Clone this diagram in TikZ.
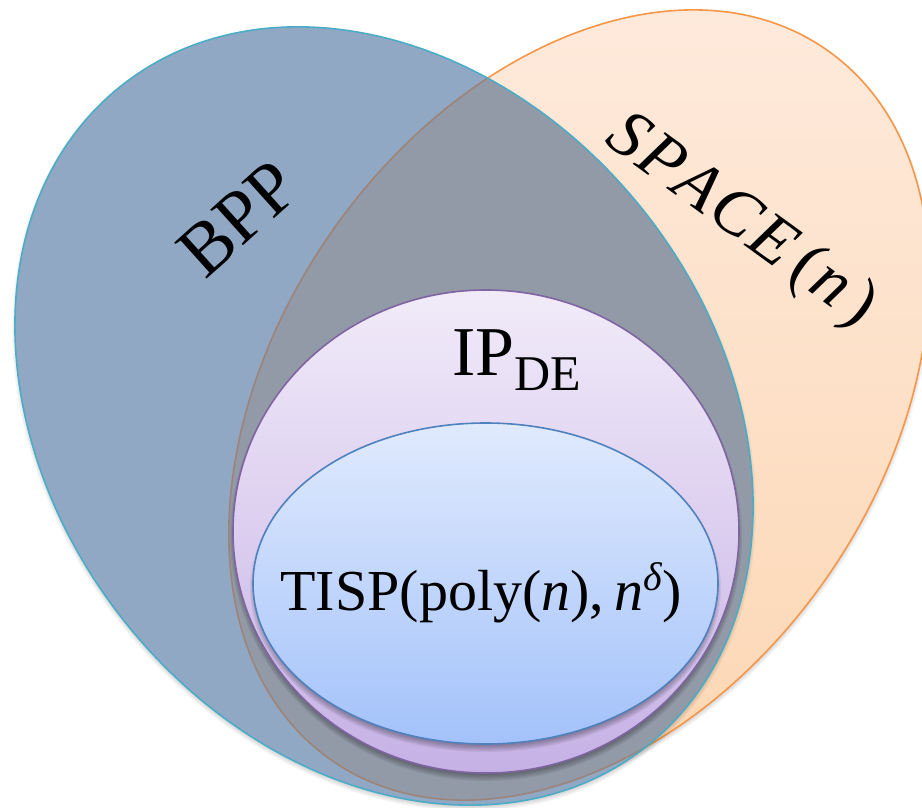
\documentclass[tikz,border=0pt]{standalone}
\usepackage{fontspec}
\setmainfont{Liberation Serif}
\definecolor{bppfill}{HTML}{91A8C4}
\definecolor{bppline}{HTML}{4BACC6}
\definecolor{interfill}{HTML}{9299A7}
\definecolor{sptop}{HTML}{FEEADC}
\definecolor{spbot}{HTML}{FCD6B2}
\definecolor{spline}{HTML}{F79646}
\definecolor{spthrough}{HTML}{9C8479}
\definecolor{iptop}{HTML}{F1EBF9}
\definecolor{ipbot}{HTML}{C6B1E5}
\definecolor{ipline}{HTML}{8064A2}
\definecolor{tstop}{HTML}{E0EAFD}
\definecolor{tsbot}{HTML}{A3C2FA}
\definecolor{tsline}{HTML}{4F81BD}
\tikzset{
  bpprot/.style={rotate around={128.6:(384,416)}},
  sprot/.style={rotate around={55.15:(579,405)}},
  outline/.style={line width=1.6pt},
}
\newcommand\softshade[7]{%
  \foreach \k in {0,...,5}{%
    \fill[black, opacity=#7, shift={(0,#6)}, rotate around={#5:(#1,#2)}]
      (#1,#2) ellipse [x radius={#3pt+1.2pt*\k-3pt}, y radius={#4pt+1.2pt*\k-3pt}];
  }}
\begin{document}
\begin{tikzpicture}[x=1pt,y=-1pt]
\useasboundingbox (0,0) rectangle (922,808);
\fill[white] (0,0) rectangle (922,808);

% SPACE(n)
\softshade{579}{405}{433}{302}{55.15}{3}{0.035}
\begin{scope}
  \clip[sprot] (579,405) ellipse [x radius=433pt, y radius=302pt];
  \shade[top color=sptop, bottom color=spbot] (100,0) rectangle (960,808);
\end{scope}
\draw[sprot, spline, outline] (579,405) ellipse [x radius=433pt, y radius=302pt];

% BPP
\softshade{384}{416}{422}{331}{128.6}{3}{0.035}
\fill[bpprot, bppfill] (384,416) ellipse [x radius=422pt, y radius=331pt];
\begin{scope}
  \clip[sprot] (579,405) ellipse [x radius=433pt, y radius=302pt];
  \fill[bpprot, interfill] (384,416) ellipse [x radius=422pt, y radius=331pt];
\end{scope}
\begin{scope}
  \clip[bpprot] (384,416) ellipse [x radius=422pt, y radius=331pt];
  \draw[sprot, spthrough, outline] (579,405) ellipse [x radius=433pt, y radius=302pt];
\end{scope}
\draw[bpprot, bppline, outline] (384,416) ellipse [x radius=422pt, y radius=331pt];

% IP_DE
\softshade{486}{531.5}{253}{241.5}{0}{5}{0.06}
\shadedraw[top color=iptop, bottom color=ipbot, draw=ipline, outline]
  (486,531.5) ellipse [x radius=253pt, y radius=241.5pt];

% TISP
\softshade{485.5}{583.5}{232.5}{160.5}{0}{5}{0.06}
\shadedraw[top color=tstop, bottom color=tsbot, draw=tsline, outline]
  (485.5,583.5) ellipse [x radius=232.5pt, y radius=160.5pt];

% labels
\node[rotate=42] (bpp) at (238,219) {\fontsize{74}{74}\selectfont BPP};
\node[rotate=-36] (space) at (741,222)
  {\fontsize{68}{68}\selectfont\textit{S\kern3pt P\kern3pt A\kern3pt C\kern3pt E}\kern10pt(\kern2pt\textit{n}\kern8pt)};
\node[anchor=base west, inner sep=0pt] (ip) at (452,375)
  {\fontsize{70}{70}\selectfont IP\raisebox{-15pt}{\fontsize{50}{50}\selectfont DE}};
\node[anchor=base, inner sep=0pt] (tisp) at (481,610)
  {\fontsize{58}{58}\selectfont TISP(poly(\textit{n}),\,\textit{n}\raisebox{20pt}{\fontsize{40}{40}\selectfont\textit{δ}})};
\end{tikzpicture}
\end{document}
